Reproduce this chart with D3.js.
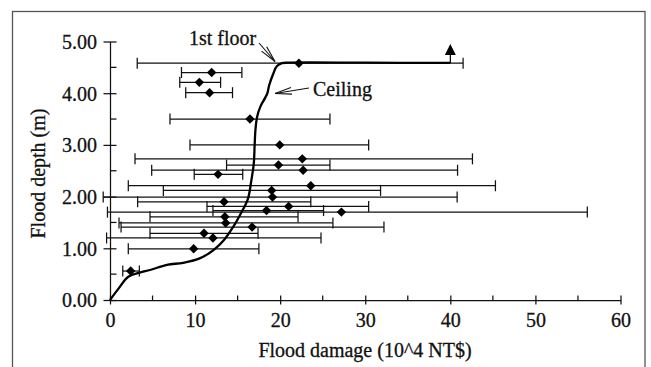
<!DOCTYPE html>
<html lang="en">
<head>
  <meta charset="UTF-8">
  <title>Flood depth vs damage</title>
  <style>
    html, body { margin: 0; padding: 0; background: #fff; }
    svg text { font-family: "Liberation Serif", "Times New Roman", serif; stroke: #111; stroke-width: 0.3px; }
    .bar { stroke: #111; stroke-width: 1.25px; fill: none; }
    .curve { fill: none; stroke: #000; stroke-width: 2.3px; }
    .note { font-size: 20px; fill: #111; }
  </style>
</head>
<body>
<svg width="651" height="367"></svg>

<script src="https://d3js.org/d3.v7.min.js"></script>
<script>
  // mean damage, flood depth and min / max of each survey group
  const depth  = [4.58, 4.40, 4.21, 4.01, 3.50, 3.00, 2.73, 2.61, 2.51, 2.43, 2.21, 2.12,
                  1.99, 1.90, 1.81, 1.73, 1.70, 1.61, 1.49, 1.41, 1.29, 1.20, 0.99, 0.56];
  const damage = [22.2, 11.95, 10.5, 11.7, 16.45, 19.95, 22.6, 19.8, 22.7, 12.7, 23.6, 19.0,
                  19.1, 13.4, 21.0, 18.4, 27.2, 13.5, 13.6, 16.7, 11.05, 12.1, 9.83, 2.43];
  const dmgLow = [3.2, 8.4, 8.2, 8.9, 7.05, 9.4, 2.94, 13.7, 4.9, 9.9, 2.15, 6.27,
                  -0.8, 3.25, 11.4, 12.1, -0.3, 4.7, 1.06, 1.3, 4.7, -0.4, 2.15, 1.5];
  const dmgHigh = [41.5, 15.5, 13.0, 14.4, 25.85, 30.4, 42.6, 25.85, 40.85, 15.6, 45.3, 31.8,
                   40.8, 23.6, 30.4, 25.1, 56.1, 22.1, 26.2, 32.2, 17.4, 24.8, 17.5, 3.45];

  // depth-damage curve
  const curveX = [0, 1, 2.15, 3.5, 4.7, 6.7, 8.6, 10.6, 12.2, 13.4, 14.5, 15.3, 16.2, 16.6,
                  16.9, 17.0, 17.1, 17.3, 17.7, 18.2, 18.5, 18.7, 19.2, 19.6, 20.2, 21, 30, 40];
  const curveY = [0, 0.22, 0.45, 0.53, 0.58, 0.68, 0.72, 0.81, 0.97, 1.16, 1.42, 1.65, 1.95, 2.3,
                  2.64, 3.0, 3.3, 3.55, 3.75, 3.9, 4.0, 4.15, 4.38, 4.52, 4.58, 4.59, 4.59, 4.585];

  const xTicks = [0, 10, 20, 30, 40, 50, 60];
  const yTicks = [0, 1, 2, 3, 4, 5];
  const xMinor = [5, 15, 25, 35, 45, 55];
  const yMinor = [0.5, 1.5, 2.5, 3.5, 4.5];

  const svg = d3.select("svg");

  const x = d3.scaleLinear().domain([0, 60]).range([110, 620.5]);
  const y = d3.scaleLinear().domain([0, 5]).range([300, 41.5]);

  // outer frame
  svg.append("rect")
    .attr("x", 12.5).attr("y", 11.5)
    .attr("width", 632.5).attr("height", 420)
    .attr("fill", "none").attr("stroke", "#555").attr("stroke-width", 1.3);

  // axes
  const gx = svg.append("g").attr("transform", `translate(0,${y(0)})`)
    .call(d3.axisBottom(x).tickValues(xTicks).tickFormat(d3.format("d")).tickSizeOuter(0));
  gx.selectAll(".tick line").attr("y1", -4.5).attr("y2", 4.5);
  gx.selectAll(".tick text").attr("y", 27).attr("dy", 0);
  xMinor.forEach(v => {
    gx.append("line").attr("x1", x(v)).attr("x2", x(v)).attr("y1", 0).attr("y2", -4.5)
      .attr("stroke", "currentColor");
  });

  const gy = svg.append("g").attr("transform", `translate(${x(0)},0)`)
    .call(d3.axisLeft(y).tickValues(yTicks).tickFormat(d3.format(".2f")).tickSizeOuter(0));
  gy.selectAll(".tick line").attr("x1", -6.5).attr("x2", 6.5);
  gy.selectAll(".tick text").attr("x", -13).attr("dy", "0.34em");
  yMinor.forEach(v => {
    gy.append("line").attr("x1", 0).attr("x2", 6.5).attr("y1", y(v)).attr("y2", y(v))
      .attr("stroke", "currentColor");
  });

  [gx, gy].forEach(g => {
    g.attr("font-family", null).attr("font-size", null).attr("color", "#111");
    g.selectAll("text").style("font-size", "20px");
    g.selectAll("line, path").attr("stroke-width", 1.25);
  });

  // axis titles
  svg.append("text").attr("class", "note")
    .attr("x", 365).attr("y", 357).attr("text-anchor", "middle")
    .text("Flood damage (10^4 NT$)");
  svg.append("text").attr("class", "note")
    .attr("transform", "translate(45,173.5) rotate(-90)")
    .attr("text-anchor", "middle")
    .text("Flood depth (m)");

  // error bars
  const idx = d3.range(depth.length);
  const bars = svg.append("g");
  idx.forEach(i => {
    const yy = y(depth[i]);
    bars.append("line").attr("class", "bar")
      .attr("x1", x(dmgLow[i])).attr("x2", x(dmgHigh[i])).attr("y1", yy).attr("y2", yy);
    [dmgLow[i], dmgHigh[i]].forEach(v => {
      bars.append("line").attr("class", "bar")
        .attr("x1", x(v)).attr("x2", x(v)).attr("y1", yy - 5.5).attr("y2", yy + 5.5);
    });
  });

  // curve
  const line = d3.line().x(d => x(d[0])).y(d => y(d[1])).curve(d3.curveCatmullRom.alpha(0.5));
  svg.append("path").attr("class", "curve")
    .attr("d", line(d3.zip(curveX, curveY)));

  // markers
  svg.append("g").selectAll("path")
    .data(idx)
    .join("path")
    .attr("transform", i => `translate(${x(damage[i])},${y(depth[i])})`)
    .attr("d", "M0,-4.7L4.7,0L0,4.7L-4.7,0Z")
    .attr("fill", "#000");

  // arrow at the end of the curve
  const endX = x(curveX[curveX.length - 1]);
  const endY = y(curveY[curveY.length - 1]);
  svg.append("line").attr("x1", endX).attr("x2", endX).attr("y1", endY).attr("y2", endY - 8)
    .attr("stroke", "#000").attr("stroke-width", 1.2);
  svg.append("path")
    .attr("d", `M${endX},${endY - 19}L${endX + 5.5},${endY - 8}L${endX - 5.5},${endY - 8}Z`)
    .attr("fill", "#000");

  // annotations with open arrows
  function openArrow(x1, y1, x2, y2) {
    const a = Math.atan2(y1 - y2, x1 - x2);
    const len = 17, spread = 0.2;
    const g = svg.append("g").attr("stroke", "#111").attr("stroke-width", 1.1).attr("fill", "none");
    g.append("line").attr("x1", x1).attr("y1", y1).attr("x2", x2).attr("y2", y2);
    [-spread, spread].forEach(s => {
      g.append("line").attr("x1", x2).attr("y1", y2)
        .attr("x2", x2 + len * Math.cos(a + s)).attr("y2", y2 + len * Math.sin(a + s));
    });
  }

  svg.append("text").attr("class", "note").attr("x", 189).attr("y", 44.5).text("1st floor");
  openArrow(259, 43, 275, 61.5);

  svg.append("text").attr("class", "note").attr("x", 313).attr("y", 96).text("Ceiling");
  openArrow(309, 88, 275, 93.5);
</script>
</body>
</html>
